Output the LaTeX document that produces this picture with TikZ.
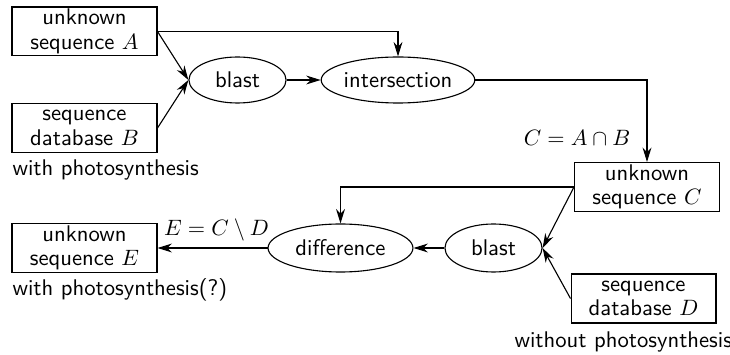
\documentclass[tikz,border=0pt]{standalone}
\usetikzlibrary{arrows.meta,shapes.geometric}
\begin{document}
\begin{tikzpicture}[x=0.45pt,y=-0.45pt,line width=0.5pt,
  box/.style={draw,rectangle,minimum width=65.2pt,minimum height=22pt,inner sep=0pt,align=center,font=\sffamily\fontsize{10.2}{11}\selectfont},
  op/.style={draw,ellipse,inner sep=0pt,font=\sffamily\fontsize{10.2}{11}\selectfont},
  arr/.style={-{Stealth[length=6.5pt,width=4pt]}},
  lbl/.style={font=\sffamily\fontsize{10.2}{11}\selectfont,inner sep=0pt}]
\useasboundingbox (0,0) rectangle (730,355);
\node[box] (A) at (84.5,31.5) {unknown\\sequence $A$};
\node[box] (B) at (84.5,128) {sequence\\database $B$};
\node[box] (C) at (647,187) {unknown\\sequence $C$};
\node[box] (D) at (643.5,298.5) {sequence\\database $D$};
\node[box] (E) at (84.5,248) {unknown\\sequence $E$};
\node[op,minimum width=43.7pt,minimum height=20.7pt] (blastA) at (237.5,80) {blast};
\node[op,minimum width=65.7pt,minimum height=20.7pt] (inter) at (398,80) {intersection};
\node[op,minimum width=65.2pt,minimum height=21.6pt] (diff) at (340.5,248) {difference};
\node[op,minimum width=43.7pt,minimum height=21.6pt] (blastB) at (493.5,248) {blast};
\node[lbl,anchor=west] (l1) at (12,170) {with photosynthesis};
\node[lbl,anchor=west] (l2) at (12,290) {with photosynthesis(?)};
\node[lbl,anchor=west] (l3) at (514,342) {without photosynthesis};
\node[inner sep=0pt] (eqC) at (577,138) {$C = A \cap B$};
\node[inner sep=0pt] (eqE) at (216.5,230) {$E = C \setminus D$};
\draw[arr] (A.east) -| (inter.north);
\draw[arr] (A.east) -- (blastA.west);
\draw[arr] (B.east) -- (blastA.west);
\draw[arr] (blastA) -- (inter);
\draw[arr] (inter.east) -| (C.north);
\draw[arr] (C.west) -| (diff.north);
\draw[arr] (C.west) -- (blastB.east);
\draw[arr] (D.west) -- (blastB.east);
\draw[arr] (blastB) -- (diff);
\draw[arr] (diff) -- (E);
\end{tikzpicture}
\end{document}
